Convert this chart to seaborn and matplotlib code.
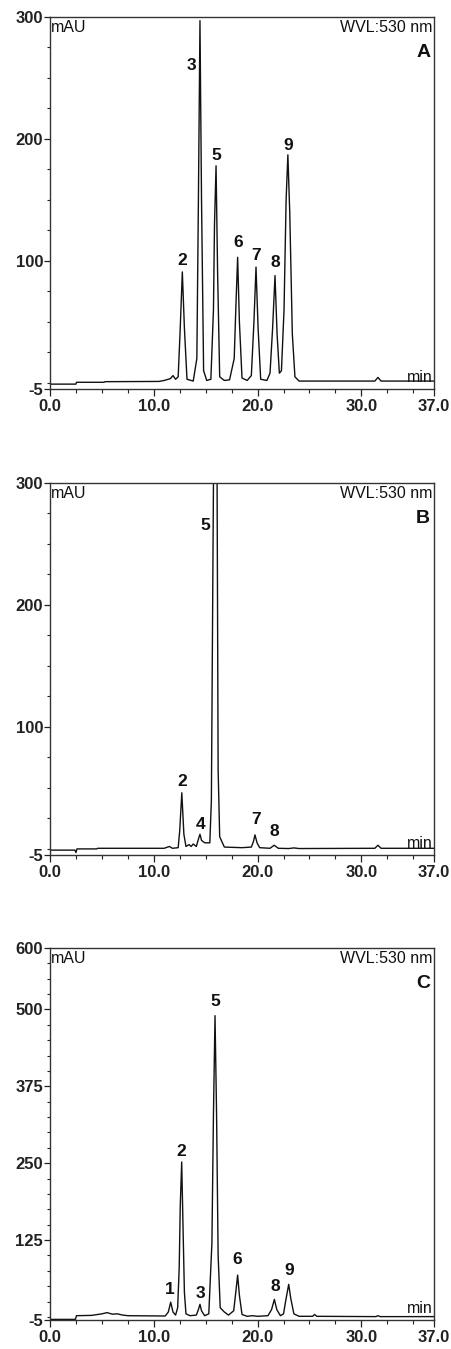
"""
Three HPLC chromatograms (530 nm) stacked as panels A, B and C.
"""

import matplotlib
matplotlib.use('Agg')
import matplotlib.pyplot as plt
from matplotlib.ticker import FixedLocator, MultipleLocator
import pandas as pd
import seaborn as sns

# Panel A trace (time in min, signal in mAU)
a_time = [0.0, 2.5, 2.55, 5.2, 5.3, 10.5, 11.0, 11.6, 11.85, 12.1, 12.35, 12.55,
          12.75, 12.95, 13.2, 13.8, 14.15, 14.3, 14.45, 14.6, 14.8, 15.1, 15.5,
          15.75, 15.85, 16.0, 16.15, 16.35, 16.8, 17.3, 17.75, 17.9, 18.08, 18.25,
          18.5, 19.0, 19.4, 19.65, 19.85, 20.05, 20.3, 20.9, 21.2, 21.45, 21.68,
          21.88, 22.1, 22.3, 22.55, 22.75, 22.92, 23.1, 23.35, 23.6, 24.0, 30.0,
          31.3, 31.6, 31.9, 37.0]
a_mau = [-1, -1, 0.5, 0.5, 1, 1.2, 2, 3.5, 6, 3, 5, 45,
         91, 45, 3, 1.5, 20, 150, 297, 150, 10, 2, 3,
         60, 130, 178, 90, 5, 2, 2.5, 20, 60, 103, 50,
         4, 2, 6, 50, 95, 45, 3, 2, 8, 45, 88,
         40, 8, 10, 60, 150, 187, 140, 40, 5, 1.5, 1.5,
         1.5, 4.5, 1.5, 1.5]
a_peak_ids = ['2', '3', '5', '6', '7', '8', '9']
a_label_time = [12.75, 13.6, 16.06, 18.1, 19.85, 21.68, 22.97]
a_label_mau = [100.7, 260.6, 186.8, 115.5, 104.8, 99.1, 195.0]

# Panel B trace
b_time = [0.0, 2.4, 2.5, 2.6, 4.5, 4.6, 11.0, 11.5, 11.8, 12.35, 12.5, 12.7,
          12.9, 13.1, 13.4, 13.6, 13.8, 14.1, 14.3, 14.45, 14.6, 14.9, 15.4,
          15.55, 15.75, 15.92, 16.1, 16.2, 16.35, 16.8, 18.5, 19.4, 19.6, 19.75,
          19.95, 20.2, 21.2, 21.6, 22.0, 23.0, 23.5, 24.0, 31.3, 31.6, 31.9, 37.0]
b_mau = [-1, -1, -3, 0, 0, 0.5, 0.5, 2, 0.5, 1, 15, 46,
         12, 2, 3.5, 2, 4, 2, 8, 12, 7, 5, 5,
         40, 300, 620, 300, 65, 10, 1.5, 1, 1.5, 6, 11.5,
         5, 1, 0.5, 3, 0.5, 0.3, 0.8, 0.3, 0.5, 3, 0.5, 0.5]
b_peak_ids = ['2', '4', '5', '7', '8']
b_label_time = [12.72, 14.52, 14.98, 19.85, 21.58]
b_label_mau = [55.0, 19.6, 265.5, 23.7, 13.9]

# Panel C trace
c_time = [0.0, 2.45, 2.55, 4.0, 5.0, 5.5, 6.0, 6.5, 7.0, 7.5, 11.1, 11.4,
          11.63, 11.85, 12.1, 12.3, 12.45, 12.55, 12.69, 12.85, 12.95, 13.1,
          13.5, 14.1, 14.3, 14.45, 14.6, 14.9, 15.3, 15.6, 15.75, 15.9, 16.05,
          16.2, 16.4, 16.8, 17.2, 17.7, 17.9, 18.08, 18.25, 18.5, 19.0, 19.5,
          20.0, 21.0, 21.35, 21.62, 21.85, 22.2, 22.5, 22.75, 23.0, 23.2, 23.5,
          24.0, 25.3, 25.5, 25.7, 31.4, 31.6, 31.8, 37.0]
c_mau = [-4, -4, 2, 2.5, 5, 7, 4.5, 5, 3, 2, 1.5, 8,
         24, 8, 3, 15, 80, 180, 252, 120, 40, 5,
         2, 3, 12, 20.5, 10, 2, 5, 120, 330, 490, 330,
         100, 15, 8, 3, 10, 40, 68, 35, 4, 1, 2,
         1, 2, 12, 28.5, 12, 2, 5, 30, 53, 30, 5,
         1, 1, 4, 1, 0.5, 2, 0.5, 0.5]
c_peak_ids = ['1', '2', '3', '5', '6', '8', '9']
c_label_time = [11.56, 12.69, 14.52, 15.9, 18.08, 21.68, 23.03]
c_label_mau = [43.8, 268.7, 38.9, 513.0, 92.6, 49.0, 76.3]

panel_letters = ['A', 'B', 'C']
y_tops = [300, 300, 600]
y_major_ticks = [[-5, 100, 200, 300], [-5, 100, 200, 300],
                 [-5, 125, 250, 375, 500, 600]]
x_major_ticks = [0.0, 10.0, 20.0, 30.0, 37.0]


def draw_panel(ax, time, mau, ids, lab_t, lab_v, letter, y_top, y_ticks):
    """
    Draw one chromatogram with its peak numbers and instrument labels.
    """

    df = pd.DataFrame({'time': time, 'mau': mau})
    sns.lineplot(data=df, x='time', y='mau', ax=ax, color='#111111',
                 linewidth=1.0, estimator=None, sort=False)
    ax.set_xlim(0, 37)
    ax.set_ylim(-5, y_top)
    ax.set_xlabel('')
    ax.set_ylabel('')

    for pid, t, v in zip(ids, lab_t, lab_v):
        ax.text(t, v, pid, ha='center', va='center', fontsize=12.5,
                fontweight='bold', color='#111111')

    ax.text(0.003, 0.972, 'mAU', transform=ax.transAxes, ha='left',
            va='center', fontsize=11.5, color='#111111')
    ax.text(0.997, 0.972, 'WVL:530 nm', transform=ax.transAxes, ha='right',
            va='center', fontsize=11.5, color='#111111')
    ax.text(0.99, 0.905, letter, transform=ax.transAxes, ha='right',
            va='center', fontsize=14, fontweight='bold', color='#111111')
    ax.text(0.997, 0.03, 'min', transform=ax.transAxes, ha='right',
            va='center', fontsize=11.5, color='#111111')

    ax.xaxis.set_major_locator(FixedLocator(x_major_ticks))
    ax.set_xticklabels([f'{t:.1f}' for t in x_major_ticks])
    ax.xaxis.set_minor_locator(MultipleLocator(2.5))
    ax.yaxis.set_major_locator(FixedLocator(y_ticks))
    ax.set_yticklabels([str(t) for t in y_ticks])
    ax.yaxis.set_minor_locator(MultipleLocator(25))

    ax.tick_params(axis='x', which='major', length=5, width=0.9, pad=2,
                   labelsize=12, colors='#222222')
    ax.tick_params(axis='x', which='minor', length=3, width=0.8,
                   colors='#222222')
    ax.tick_params(axis='y', which='major', length=4.5, width=0.9, pad=0.5,
                   labelsize=12, colors='#222222')
    ax.tick_params(axis='y', which='minor', length=2.2, width=0.8,
                   colors='#222222')
    for lab in ax.get_xticklabels() + ax.get_yticklabels():
        lab.set_fontweight('bold')

    for side in ['left', 'right', 'top', 'bottom']:
        ax.spines[side].set_visible(True)
        ax.spines[side].set_color('#333333')
        ax.spines[side].set_linewidth(1.0)


def main():
    sns.set_theme(style='ticks')
    plt.rcParams['font.family'] = ['Liberation Sans', 'DejaVu Sans']

    fig = plt.figure(figsize=(4.52, 13.49), dpi=100)
    W, H = 452, 1349
    bottoms = [960, 494, 29]
    panels = [
        (a_time, a_mau, a_peak_ids, a_label_time, a_label_mau),
        (b_time, b_mau, b_peak_ids, b_label_time, b_label_mau),
        (c_time, c_mau, c_peak_ids, c_label_time, c_label_mau),
    ]
    for i, (t, v, ids, lt, lv) in enumerate(panels):
        ax = fig.add_axes([50 / W, bottoms[i] / H, 384 / W, 372 / H])
        draw_panel(ax, t, v, ids, lt, lv, panel_letters[i], y_tops[i],
                   y_major_ticks[i])

    fig.savefig('out.png', dpi=100, facecolor='white')


if __name__ == '__main__':
    main()
